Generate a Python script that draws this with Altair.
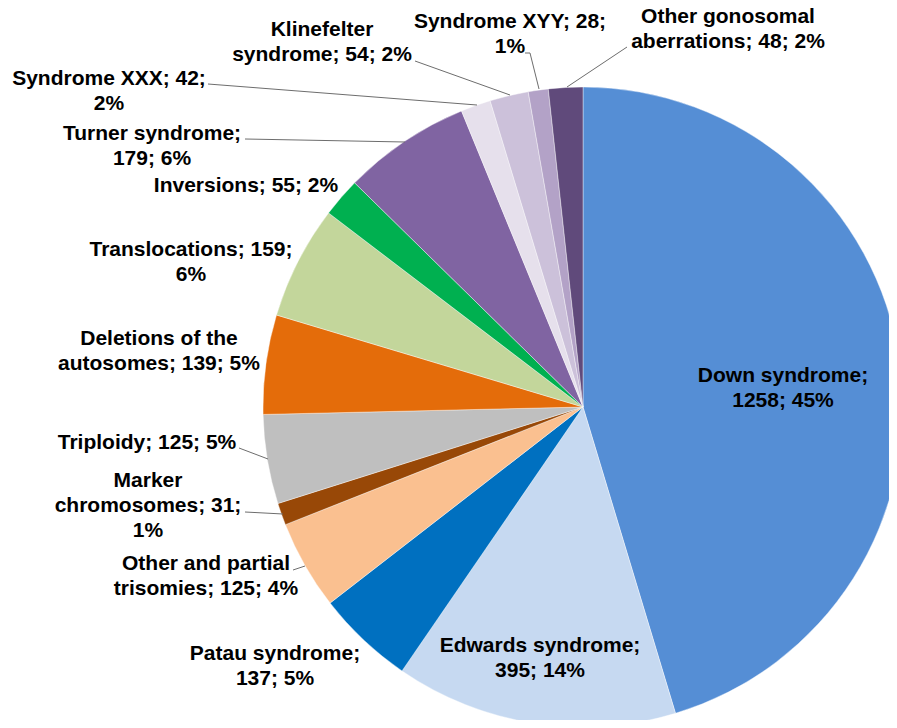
import altair as alt
import pandas as pd

# ---- data ----
categories = [
    "Down syndrome", "Edwards syndrome", "Patau syndrome",
    "Other and partial trisomies", "Marker chromosomes", "Triploidy",
    "Deletions of the autosomes", "Translocations", "Inversions",
    "Turner syndrome", "Syndrome XXX", "Klinefelter syndrome",
    "Syndrome XYY", "Other gonosomal aberrations",
]
counts = [1258, 395, 137, 125, 31, 125, 139, 159, 55, 179, 42, 54, 28, 48]
percents = [45, 14, 5, 4, 1, 5, 5, 6, 2, 6, 2, 2, 1, 2]
label_lines = [
    ["Down syndrome;", "1258; 45%"],
    ["Edwards syndrome;", "395; 14%"],
    ["Patau syndrome;", "137; 5%"],
    ["Other and partial", "trisomies; 125; 4%"],
    ["Marker", "chromosomes; 31;", "1%"],
    ["Triploidy; 125; 5%"],
    ["Deletions of the", "autosomes; 139; 5%"],
    ["Translocations; 159;", "6%"],
    ["Inversions; 55; 2%"],
    ["Turner syndrome;", "179; 6%"],
    ["Syndrome XXX; 42;", "2%"],
    ["Klinefelter", "syndrome; 54; 2%"],
    ["Syndrome XYY; 28;", "1%"],
    ["Other gonosomal", "aberrations; 48; 2%"],
]
colors = [
    "#558ED5", "#C6D9F1", "#0070C0", "#FAC090", "#984807", "#BFBFBF",
    "#E46C0A", "#C3D69B", "#00B050", "#8064A2", "#E6E0EC", "#CCC1DA",
    "#B3A2C7", "#604A7B",
]

# ---- layout (annotation placement, page px minus margin) ----
M = 8
W, H = 881, 712
CX, CY, R = 583 - M, 407 - M, 320
label_pos = [
    (783, 382), (540, 652), (275, 660), (206, 570), (148, 487), (147, 449),
    (159, 345), (191, 256), (246, 192), (152, 140), (109, 85), (322, 36),
    (510, 28), (728, 23),
]
leaders = {
    "Other and partial trisomies": [(293, 570), (305, 566)],
    "Marker chromosomes": [(245, 512), (283, 514)],
    "Triploidy": [(239, 448), (268, 459)],
    "Turner syndrome": [(245, 139), (405, 142)],
    "Syndrome XXX": [(208, 84), (477, 105)],
    "Klinefelter syndrome": [(415, 61), (510, 95)],
    "Syndrome XYY": [(525, 53), (530, 53), (539, 89)],
    "Other gonosomal aberrations": [(627, 47), (567, 87)],
}

df = pd.DataFrame({
    "cat": categories,
    "value": counts,
    "idx": list(range(len(categories))),
})

lab = pd.DataFrame({
    "cat": categories,
    "text": label_lines,
    "lx": [p[0] - M for p in label_pos],
    "ly": [p[1] - M for p in label_pos],
})

rows = []
for name, pts in leaders.items():
    for i, (x, y) in enumerate(pts):
        rows.append({"cat": name, "o": i, "x": x - M, "y": y - M})
lead = pd.DataFrame(rows)

pie = alt.Chart(df).mark_arc(radius=R, stroke="white", strokeWidth=0.4).encode(
    theta=alt.Theta("value:Q", stack=True),
    order=alt.Order("idx:Q", sort="ascending"),
    color=alt.Color("cat:N", scale=alt.Scale(domain=categories, range=colors), legend=None),
    x=alt.value(CX),
    y=alt.value(CY),
)

lines = alt.Chart(lead).mark_line(color="#6d6d6d", strokeWidth=1).encode(
    x=alt.X("x:Q", scale=None, axis=None),
    y=alt.Y("y:Q", scale=None, axis=None),
    detail="cat:N",
    order="o:Q",
)

texts = alt.Chart(lab).mark_text(
    font="Arial, Liberation Sans, sans-serif",
    fontSize=21,
    fontWeight="bold",
    color="black",
    align="center",
    baseline="alphabetic",
    lineHeight=25,
).encode(
    x=alt.X("lx:Q", scale=None, axis=None),
    y=alt.Y("ly:Q", scale=None, axis=None),
    text="text",
)

chart = alt.layer(pie, lines, texts).properties(
    width=W, height=H,
    autosize=alt.AutoSizeParams(type="none"),
    padding=0,
).configure_view(stroke=None)

chart.save("out.html", embed_options={"renderer": "svg", "actions": False})
